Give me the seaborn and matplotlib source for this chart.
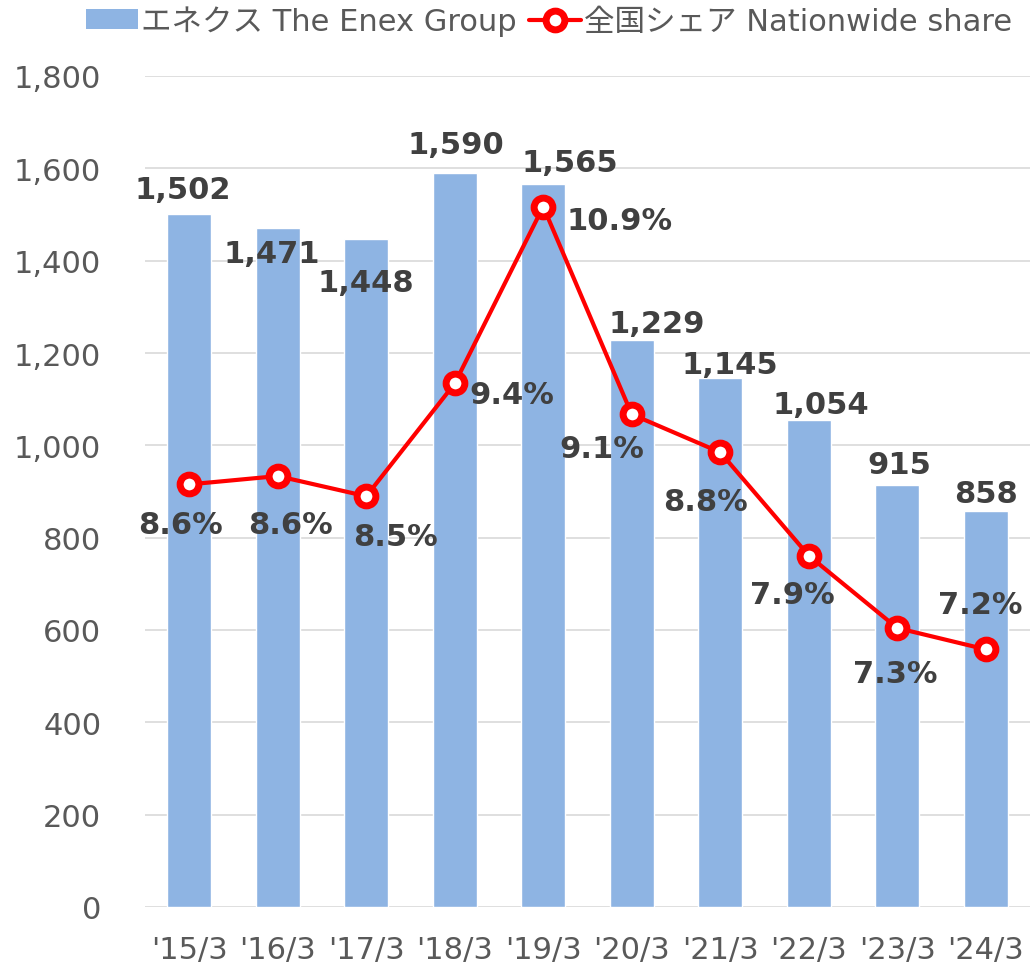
import numpy as np
import pandas as pd
import seaborn as sns
import matplotlib.pyplot as plt
from matplotlib.patches import Patch
from matplotlib.lines import Line2D

# データ
years = ["'15/3", "'16/3", "'17/3", "'18/3", "'19/3", "'20/3", "'21/3", "'22/3", "'23/3", "'24/3"]
units = [1502, 1471, 1448, 1590, 1565, 1229, 1145, 1054, 915, 858]
share = [8.56, 8.63, 8.46, 9.41, 10.9, 9.15, 8.83, 7.96, 7.35, 7.17]
share_labels = ["8.6%", "8.6%", "8.5%", "9.4%", "10.9%", "9.1%", "8.8%", "7.9%", "7.3%", "7.2%"]

# ラベル位置のずれ (pixels)
bar_offsets = [(-6, 24), (-6, -26), (0, -44), (1, 28), (27, 22),
               (25, 16), (10, 14), (12, 16), (2, 20), (0, 17)]
line_offsets = [(-9, -40), (13, -48), (29, -40), (57, -11), (76, -14),
                (-30, -34), (-15, -49), (-16, -39), (-2, -45), (-5, 45)]

bar_color = "#8EB4E3"
red = "#FF0000"
tick_color = "#595959"
label_color = "#404040"

df = pd.DataFrame({"year": years, "units": units, "share": share, "pos": np.arange(len(years))})

sns.set_theme(style="white")
plt.rcParams["font.family"] = ["DejaVu Sans", "Noto Sans CJK JP"]

fig = plt.figure(figsize=(10.3, 9.7), dpi=100)
ax = fig.add_axes([145 / 1030, 62 / 970, 885 / 1030, 831 / 970])

sns.barplot(data=df, x="year", y="units", color=bar_color, width=0.5,
            saturation=1, ax=ax, zorder=2)
ax.set_ylim(0, 1800)
ax.set_xlim(-0.5, len(years) - 0.5)
ax.set_yticks(range(0, 1801, 200))
ax.set_yticklabels([f"{v:,}" for v in range(0, 1801, 200)])
ax.yaxis.grid(True, color="#D9D9D9", linewidth=1.2, zorder=0)
ax.set_axisbelow(True)
ax.tick_params(axis="both", labelsize=22, labelcolor=tick_color, length=0)
ax.tick_params(axis="y", pad=31.5)
ax.tick_params(axis="x", pad=20)
ax.set_xlabel("")
ax.set_ylabel("")
for s in ax.spines.values():
    s.set_visible(False)

for i, v in enumerate(units):
    dx, dy = bar_offsets[i]
    ax.annotate(f"{v:,}", (i, v), xytext=(dx, dy), textcoords="offset pixels",
                ha="center", va="center", fontsize=22, fontweight="bold",
                color=label_color, zorder=5)

ax2 = ax.twinx()
sns.lineplot(data=df, x="pos", y="share", color=red, linewidth=3, marker="o",
             markersize=13.5, markerfacecolor="white", markeredgecolor=red,
             markeredgewidth=5, ax=ax2, zorder=4)
ax2.set_ylim(5, 12)
ax2.set_yticks([])
ax2.set_ylabel("")
ax2.set_xlabel("")
for s in ax2.spines.values():
    s.set_visible(False)

for i, v in enumerate(share):
    dx, dy = line_offsets[i]
    ax2.annotate(share_labels[i], (i, v), xytext=(dx, dy), textcoords="offset pixels",
                 ha="center", va="center", fontsize=22, fontweight="bold",
                 color=label_color, zorder=6)

handles = [
    Patch(facecolor=bar_color, edgecolor="none"),
    Line2D([0], [0], color=red, linewidth=3, marker="o", markersize=13.5,
           markerfacecolor="white", markeredgecolor=red, markeredgewidth=5),
]
fig.legend(handles, ["エネクス The Enex Group", "全国シェア Nationwide share"],
           loc="upper center", bbox_to_anchor=(0.533, 1.022), ncol=2, frameon=False,
           fontsize=22, labelcolor=tick_color, handlelength=1.7, handletextpad=0.1,
           columnspacing=0.4, handleheight=0.6)

fig.savefig("out.png", dpi=100)
